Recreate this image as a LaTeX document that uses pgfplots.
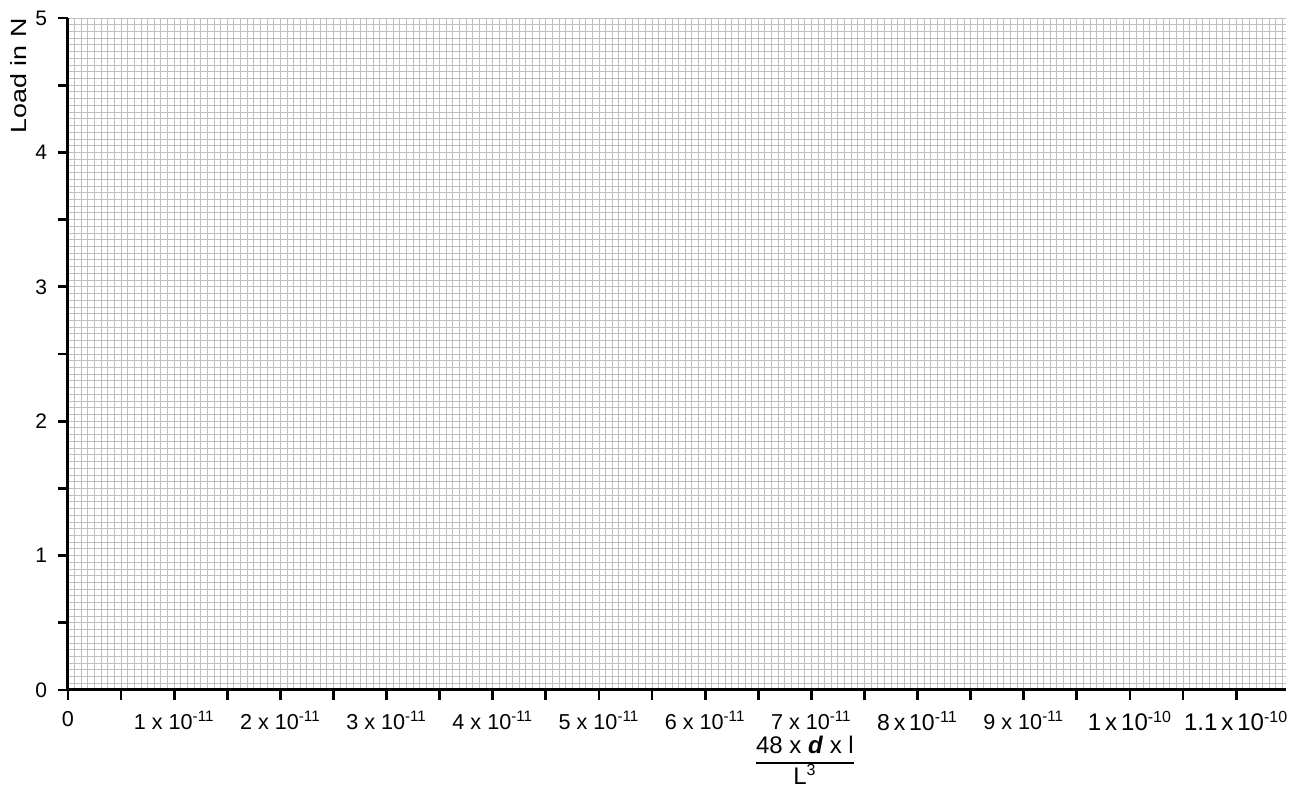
\documentclass[border=0pt]{standalone}
\usepackage{pgfplots}
\pgfplotsset{compat=1.18}
\usepackage{fontspec}
\setmainfont{Liberation Sans}
\newcommand{\sci}[2]{#1 x 10\textsuperscript{#2}}
\begin{document}
\begin{tikzpicture}
\path[use as bounding box] (-34pt,-53pt) rectangle (614pt,345pt);
\begin{axis}[
  scale only axis,
  width=609pt, height=336pt,
  xmin=0, xmax=11.47, ymin=0, ymax=5,
  axis lines*=left,
  axis line style={line width=1.5pt, black, -},
  xtick={0,0.5,...,11.5},
  xticklabels={0,,\sci{1}{-11},,\sci{2}{-11},,\sci{3}{-11},,\sci{4}{-11},,\sci{5}{-11},,\sci{6}{-11},,\sci{7}{-11},,{\fontsize{11.5}{13}\selectfont8\,x\,10\textsuperscript{-11}},,\sci{9}{-11},,{\fontsize{12}{13}\selectfont1\,x\,10\textsuperscript{-10}},,{\fontsize{12}{13}\selectfont1.1\,x\,10\textsuperscript{-10}},},
  ytick={0,0.5,...,5},
  yticklabels={0,,1,,2,,3,,4,,5},
  minor x tick num=7,
  minor y tick num=9,
  grid=both,
  major grid style={gray!50, line width=0.45pt},
  minor grid style={gray!50, line width=0.45pt},
  tick align=outside,
  major tick length=5pt,
  minor tick length=0pt,
  tick style={line width=1.4pt, black},
  xticklabel style={font=\fontsize{10.8}{12}\selectfont, yshift=-2pt},
  yticklabel style={font=\fontsize{10.5}{12}\selectfont, xshift=-2pt},
  clip=false,
]
\addplot[draw=none] coordinates {(0,0) (11.47,5)};
\node[rotate=90, font=\fontsize{11}{13}\selectfont, inner sep=0pt] at ([xshift=-24.5pt]rel axis cs:0,0.914) {\scalebox{1.22}[1]{Load in N}};
\node[font=\fontsize{12}{14}\selectfont, anchor=north, inner sep=0pt] at ([yshift=-22pt]rel axis cs:0.605,0)
  {\setlength{\arrayrulewidth}{1pt}\renewcommand{\arraystretch}{1.0}\begin{tabular}{@{}c@{}}48 x \textbf{\textit{d}} x l\\\hline L\textsuperscript{3}\end{tabular}};
\end{axis}
\end{tikzpicture}
\end{document}
